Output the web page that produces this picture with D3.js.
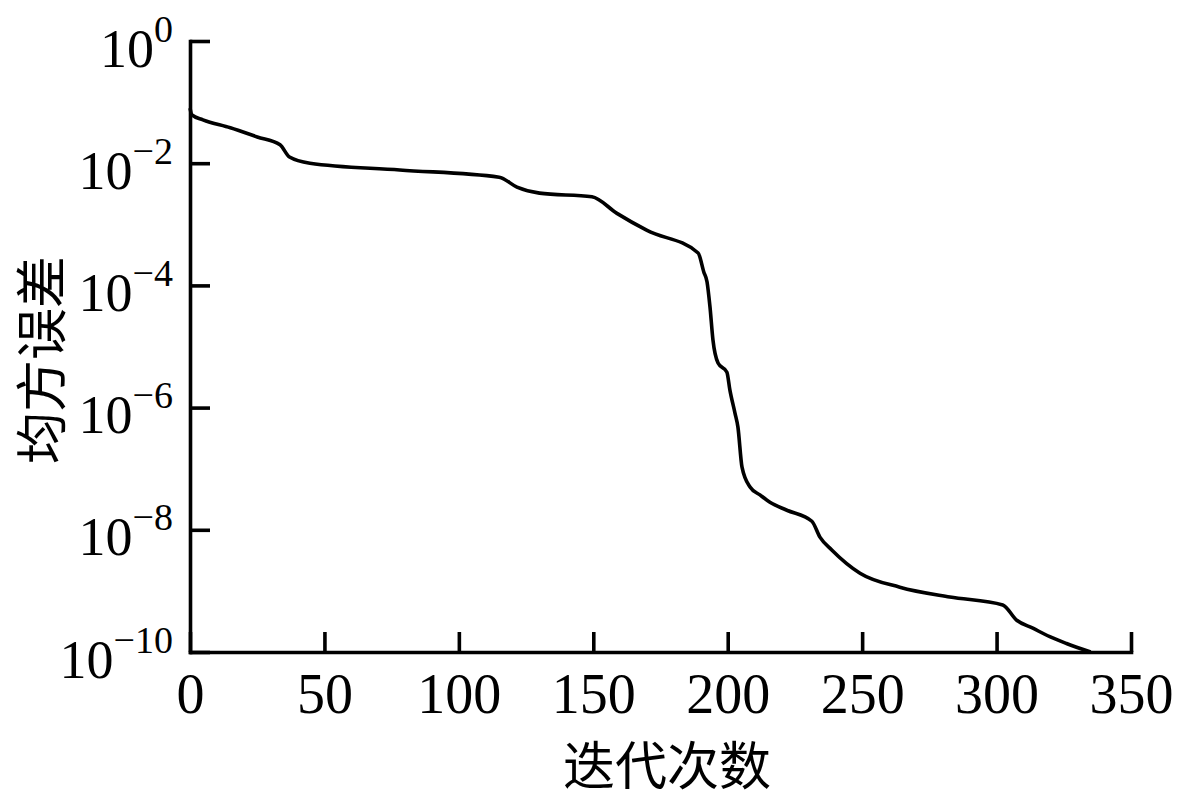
<!DOCTYPE html>
<html><head><meta charset="utf-8">
<script src="https://cdn.jsdelivr.net/npm/d3@7"></script>
<style>body{margin:0;background:#fff}svg{display:block}</style>
</head><body><svg id="c" width="1177" height="800"></svg>
<script>
// ---- data ----
const iterations = [0, 0.7, 4.8, 15, 25, 33.5, 37, 44.6, 78, 115, 121.6, 130, 149.5, 158.8, 170,
  189, 191.1, 192.3, 193.4, 194.5, 196.4, 199.7, 200.8, 202.7, 203.8, 205.3, 208.3, 212, 215.7,
  222, 231.3, 234.3, 238.7, 249.2, 264, 282.6, 302.3, 307.5, 313.5, 319.8, 326, 335];
const mse = [7.94e-2, 6.17e-2, 5.13e-2, 3.80e-2, 2.69e-2, 2.00e-2, 1.26e-2, 1.00e-2, 7.76e-3, 5.89e-3,
  4.07e-3, 3.24e-3, 2.82e-3, 1.51e-3, 7.94e-4,
  3.39e-4, 1.66e-4, 1.15e-4, 4.47e-5, 1.29e-5, 5.37e-6, 3.80e-6, 1.95e-6, 8.13e-7, 4.79e-7, 1.07e-7,
  5.01e-8, 3.72e-8, 2.82e-8, 2.09e-8, 1.38e-8, 7.59e-9, 4.68e-9, 1.95e-9, 1.15e-9, 7.94e-10,
  5.89e-10, 3.31e-10, 2.45e-10, 1.78e-10, 1.38e-10, 1.0e-10];
const xTicks = [0, 50, 100, 150, 200, 250, 300, 350];
const yTickExponents = [0, -2, -4, -6, -8, -10];
const xLabel = "迭代次数";
const yLabel = "均方误差";

// ---- drawing ----
const svg = d3.select("#c");
const serif = "'Liberation Serif','Times New Roman',serif";
const cjk = "'Noto Sans CJK SC','Noto Sans CJK JP',sans-serif";

const x = d3.scaleLinear().domain([0, 350]).range([190, 1131]);
const y = d3.scaleLog().domain([1e-10, 1]).range([652, 41]);

// curve
const pts = iterations.map((v, i) => [v, mse[i]]);
svg.append("path")
  .datum(pts)
  .attr("fill", "none")
  .attr("stroke", "#000")
  .attr("stroke-width", 3.6)
  .attr("stroke-linejoin", "round")
  .attr("d", d3.line().x(d => x(d[0])).y(d => y(d[1])).curve(d3.curveMonotoneX));

// x axis
const gx = svg.append("g")
  .attr("transform", "translate(0,652)")
  .call(d3.axisBottom(x).tickValues(xTicks).tickSizeInner(-20).tickSizeOuter(0).tickPadding(0).tickFormat(d3.format("d")));
gx.selectAll(".tick text")
  .attr("y", 61).attr("dy", 0)
  .style("font-family", serif).style("font-size", "56px").attr("fill", "#000");

// y axis
const gy = svg.append("g")
  .attr("transform", "translate(190,0)")
  .call(d3.axisLeft(y).tickValues(yTickExponents.map(e => Math.pow(10, e)))
    .tickSizeInner(-20).tickSizeOuter(0).tickFormat(() => ""));
gy.selectAll(".tick text").each(function (d, i) {
  const e = yTickExponents[i];
  const t = d3.select(this)
    .attr("x", -17).attr("y", 25).attr("dy", 0)
    .attr("text-anchor", "end")
    .style("font-family", serif).style("font-size", "54px").attr("fill", "#000")
    .text(null);
  t.append("tspan").text("10");
  t.append("tspan").attr("dy", -25).style("font-size", "38px")
    .text(e === 0 ? "0" : "\u2212" + Math.abs(e));
});

[gx, gy].forEach(g => {
  g.selectAll(".domain").attr("stroke", "#000").attr("stroke-width", 3.6).attr("stroke-linecap", "square");
  g.selectAll(".tick line").attr("stroke", "#000").attr("stroke-width", 3.6);
});

// axis titles
svg.append("text")
  .attr("x", 667).attr("y", 762)
  .attr("text-anchor", "middle").attr("dominant-baseline", "central")
  .style("font-family", cjk).style("font-size", "52px").attr("fill", "#000")
  .text(xLabel);
svg.append("text")
  .attr("transform", "translate(38,360) rotate(-90)")
  .attr("text-anchor", "middle").attr("dominant-baseline", "central")
  .style("font-family", cjk).style("font-size", "52px").attr("fill", "#000")
  .text(yLabel);
</script>
</body></html>
